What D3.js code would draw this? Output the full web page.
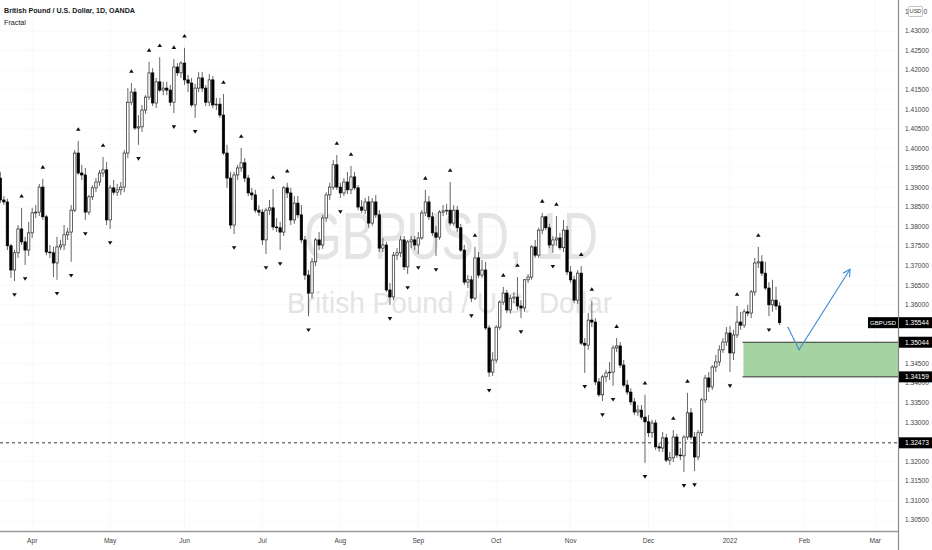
<!DOCTYPE html>
<html><head><meta charset="utf-8">
<script src="https://cdn.jsdelivr.net/npm/d3@7"></script>
<style>body{margin:0;background:#fff;}svg{display:block;}</style>
</head><body>
<svg id="chart" width="932" height="550"></svg>
<script>
// ---------- DATA ----------
const firstBar = -9; // bar index of first candle; index 0 = 2021-04-01
const opens = [
1.3924,1.3868,1.3863,1.3751,1.3689,1.3733,1.3794,1.3761,1.3740,1.3784,
1.3835,1.3837,1.3901,1.3825,1.3735,1.3733,1.3707,1.3748,1.3753,1.3779,
1.3786,1.3842,1.3988,1.3937,1.3932,1.3837,1.3876,1.3899,1.3914,1.3937,
1.3945,1.3817,1.3899,1.3888,1.3894,1.3901,1.3988,1.4118,1.4144,1.4052,
1.4055,1.4098,1.4131,1.4193,1.4116,1.4170,1.4149,1.4154,1.4149,1.4118,
1.4208,1.4193,1.4218,1.4175,1.4167,1.4111,1.4154,1.4180,1.4154,1.4118,
1.4175,1.4111,1.4113,1.4085,1.3988,1.3924,1.3804,1.3932,1.3950,1.3963,
1.3924,1.3886,1.3881,1.3842,1.3837,1.3766,1.3842,1.3848,1.3799,1.3797,
1.3786,1.3899,1.3886,1.3817,1.3860,1.3830,1.3766,1.3676,1.3630,1.3710,
1.3766,1.3753,1.3822,1.3881,1.3901,1.3958,1.3901,1.3886,1.3914,1.3894,
1.3927,1.3899,1.3850,1.3842,1.3863,1.3809,1.3863,1.3830,1.3745,1.3753,
1.3638,1.3620,1.3727,1.3733,1.3766,1.3697,1.3761,1.3766,1.3753,1.3771,
1.3835,1.3863,1.3825,1.3784,1.3773,1.3837,1.3840,1.3842,1.3809,1.3842,
1.3797,1.3740,1.3658,1.3664,1.3617,1.3720,1.3676,1.3689,1.3541,1.3428,
1.3459,1.3543,1.3607,1.3630,1.3587,1.3617,1.3620,1.3597,1.3592,1.3664,
1.3671,1.3748,1.3727,1.3791,1.3825,1.3797,1.3753,1.3766,1.3771,1.3746,
1.3791,1.3684,1.3664,1.3612,1.3681,1.3502,1.3497,1.3561,1.3556,1.3403,
1.3370,1.3416,1.3426,1.3428,1.3490,1.3495,1.3446,1.3395,1.3377,1.3352,
1.3326,1.3331,1.3313,1.3301,1.3273,1.3298,1.3237,1.3234,1.3260,1.3203,
1.3209,1.3262,1.3216,1.3214,1.3262,1.3324,1.3262,1.3211,1.3273,1.3357,
1.3413,1.3390,1.3441,1.3454,1.3485,1.3505,1.3528,1.3477,1.3523,1.3556,
1.3548,1.3582,1.3579,1.3633,1.3707,1.3710,1.3681,1.3643,1.3600,1.3612,1.3597];
const highs = [
1.3940,1.3878,1.3871,1.3756,1.3740,1.3804,1.3848,1.3774,1.3812,1.3848,
1.3855,1.3909,1.3922,1.3830,1.3753,1.3748,1.3774,1.3766,1.3804,1.3797,
1.3855,1.3996,1.4019,1.3958,1.3950,1.3881,1.3906,1.3924,1.3945,1.3978,
1.3965,1.3906,1.3919,1.3909,1.3914,1.3996,1.4154,1.4167,1.4154,1.4085,
1.4111,1.4136,1.4221,1.4205,1.4180,1.4233,1.4170,1.4170,1.4162,1.4228,
1.4218,1.4223,1.4257,1.4188,1.4180,1.4165,1.4195,1.4195,1.4162,1.4190,
1.4185,1.4129,1.4129,1.4139,1.4009,1.3940,1.3940,1.3958,1.4001,1.3975,
1.3932,1.3899,1.3894,1.3855,1.3845,1.3848,1.3868,1.3896,1.3822,1.3812,
1.3904,1.3912,1.3899,1.3878,1.3878,1.3855,1.3776,1.3689,1.3720,1.3771,
1.3786,1.3830,1.3888,1.3912,1.3970,1.3983,1.3912,1.3924,1.3940,1.3955,
1.3940,1.3906,1.3868,1.3873,1.3878,1.3873,1.3881,1.3842,1.3771,1.3761,
1.3656,1.3735,1.3745,1.3776,1.3776,1.3766,1.3776,1.3776,1.3786,1.3842,
1.3894,1.3878,1.3837,1.3802,1.3842,1.3855,1.3858,1.3914,1.3855,1.3853,
1.3807,1.3753,1.3676,1.3674,1.3748,1.3735,1.3715,1.3710,1.3548,1.3479,
1.3548,1.3612,1.3646,1.3638,1.3625,1.3633,1.3671,1.3612,1.3666,1.3679,
1.3753,1.3766,1.3797,1.3835,1.3827,1.3807,1.3776,1.3827,1.3784,1.3817,
1.3802,1.3699,1.3674,1.3689,1.3699,1.3515,1.3579,1.3610,1.3566,1.3413,
1.3421,1.3434,1.3454,1.3497,1.3515,1.3505,1.3459,1.3408,1.3387,1.3362,
1.3344,1.3344,1.3370,1.3318,1.3306,1.3306,1.3247,1.3275,1.3270,1.3224,
1.3280,1.3270,1.3234,1.3267,1.3375,1.3336,1.3275,1.3280,1.3362,1.3421,
1.3428,1.3446,1.3472,1.3497,1.3515,1.3543,1.3546,1.3536,1.3597,1.3582,
1.3589,1.3600,1.3638,1.3720,1.3748,1.3727,1.3710,1.3658,1.3664,1.3646,1.3607];
const lows = [
1.3860,1.3855,1.3740,1.3669,1.3661,1.3720,1.3753,1.3702,1.3725,1.3771,
1.3822,1.3827,1.3817,1.3727,1.3720,1.3671,1.3664,1.3740,1.3740,1.3766,
1.3710,1.3837,1.3932,1.3919,1.3817,1.3830,1.3868,1.3888,1.3904,1.3927,
1.3804,1.3794,1.3881,1.3878,1.3881,1.3888,1.3975,1.4111,1.4047,1.4009,
1.4042,1.4088,1.4124,1.4108,1.4103,1.4144,1.4136,1.4136,1.4108,1.4090,
1.4185,1.4180,1.4162,1.4144,1.4106,1.4078,1.4144,1.4144,1.4108,1.4108,
1.4103,1.4098,1.4078,1.3983,1.3899,1.3794,1.3781,1.3919,1.3940,1.3914,
1.3878,1.3868,1.3835,1.3827,1.3753,1.3730,1.3830,1.3791,1.3786,1.3740,
1.3776,1.3873,1.3804,1.3807,1.3822,1.3758,1.3664,1.3571,1.3617,1.3699,
1.3740,1.3743,1.3812,1.3868,1.3894,1.3894,1.3873,1.3878,1.3883,1.3883,
1.3894,1.3842,1.3835,1.3832,1.3797,1.3802,1.3822,1.3735,1.3735,1.3633,
1.3600,1.3612,1.3715,1.3722,1.3689,1.3679,1.3745,1.3740,1.3730,1.3766,
1.3827,1.3817,1.3776,1.3725,1.3766,1.3827,1.3830,1.3802,1.3802,1.3786,
1.3735,1.3651,1.3643,1.3607,1.3612,1.3669,1.3669,1.3536,1.3416,1.3418,
1.3451,1.3536,1.3600,1.3579,1.3577,1.3605,1.3587,1.3566,1.3582,1.3656,
1.3664,1.3720,1.3720,1.3781,1.3791,1.3745,1.3733,1.3751,1.3740,1.3735,
1.3676,1.3656,1.3604,1.3602,1.3497,1.3426,1.3485,1.3543,1.3395,1.3365,
1.3354,1.3403,1.3408,1.3393,1.3479,1.3439,1.3390,1.3370,1.3344,1.3318,
1.3316,1.3306,1.3196,1.3262,1.3260,1.3229,1.3224,1.3224,1.3198,1.3191,
1.3198,1.3209,1.3203,1.3173,1.3255,1.3255,1.3175,1.3203,1.3265,1.3349,
1.3377,1.3382,1.3428,1.3444,1.3477,1.3495,1.3428,1.3459,1.3515,1.3536,
1.3541,1.3571,1.3566,1.3623,1.3694,1.3674,1.3638,1.3571,1.3582,1.3587,1.3548];
const closes = [
1.3868,1.3863,1.3751,1.3689,1.3733,1.3794,1.3761,1.3740,1.3784,1.3835,
1.3837,1.3901,1.3825,1.3735,1.3733,1.3707,1.3748,1.3753,1.3779,1.3786,
1.3842,1.3988,1.3937,1.3932,1.3837,1.3876,1.3899,1.3914,1.3937,1.3945,
1.3817,1.3899,1.3888,1.3894,1.3901,1.3988,1.4118,1.4144,1.4052,1.4055,
1.4098,1.4131,1.4193,1.4116,1.4170,1.4149,1.4154,1.4149,1.4118,1.4208,
1.4193,1.4218,1.4175,1.4167,1.4111,1.4154,1.4180,1.4154,1.4118,1.4175,
1.4111,1.4113,1.4085,1.3988,1.3924,1.3804,1.3932,1.3950,1.3963,1.3924,
1.3886,1.3881,1.3842,1.3837,1.3766,1.3842,1.3848,1.3799,1.3797,1.3786,
1.3899,1.3886,1.3817,1.3860,1.3830,1.3766,1.3676,1.3630,1.3710,1.3766,
1.3753,1.3822,1.3881,1.3901,1.3958,1.3901,1.3886,1.3914,1.3894,1.3927,
1.3899,1.3850,1.3842,1.3863,1.3809,1.3863,1.3830,1.3745,1.3753,1.3638,
1.3620,1.3727,1.3733,1.3766,1.3697,1.3761,1.3766,1.3753,1.3771,1.3835,
1.3863,1.3825,1.3784,1.3773,1.3837,1.3840,1.3842,1.3809,1.3842,1.3797,
1.3740,1.3658,1.3664,1.3617,1.3720,1.3676,1.3689,1.3541,1.3428,1.3459,
1.3543,1.3607,1.3630,1.3587,1.3617,1.3620,1.3597,1.3592,1.3664,1.3671,
1.3748,1.3727,1.3791,1.3825,1.3797,1.3753,1.3766,1.3771,1.3746,1.3791,
1.3684,1.3664,1.3612,1.3681,1.3502,1.3497,1.3561,1.3556,1.3403,1.3370,
1.3416,1.3426,1.3428,1.3490,1.3495,1.3446,1.3395,1.3377,1.3352,1.3326,
1.3331,1.3313,1.3301,1.3273,1.3298,1.3237,1.3234,1.3260,1.3203,1.3209,
1.3262,1.3216,1.3214,1.3262,1.3324,1.3262,1.3211,1.3273,1.3357,1.3413,
1.3390,1.3441,1.3454,1.3485,1.3505,1.3528,1.3477,1.3523,1.3556,1.3548,
1.3582,1.3579,1.3633,1.3707,1.3710,1.3681,1.3643,1.3600,1.3612,1.3597,1.35544];

const fractalUp = [-3,3,13,20,28,33,36,40,43,54,59,68,72,86,90,111,118,125,133,137,144,148,155,158,165,173,181,185,199,205];
const fractalDown = [-5,-2,7,11,15,22,30,40,46,57,66,70,78,87,101,106,109,114,124,129,138,147,156,161,164,173,184,187,197,208];

const monthLabels = ["Apr","May","Jun","Jul","Aug","Sep","Oct","Nov","Dec","2022","Feb","Mar"];
const monthBars   = [0,22,43,65,87,109,131,152,174,197,218,238];
const priceTicks = [1.430,1.425,1.420,1.415,1.410,1.405,1.400,1.395,1.390,1.385,1.380,1.375,1.370,1.365,1.360,1.355,1.350,1.345,1.340,1.335,1.330,1.325,1.320,1.315,1.310,1.305];
const topTick = 1.435; // partly hidden behind the currency badge

const symbolName = "GBPUSD";
const titleText = "British Pound / U.S. Dollar, 1D, OANDA";
const indicatorName = "Fractal";
const currency = "USD";
const lastPrice = 1.35544;
const zoneTop = 1.35044, zoneBottom = 1.34159, zoneStartBar = 200.8;
const supportLevel = 1.32473;
const arrowPath = [[213.3, 1.3544], [216.5, 1.3485], [230.9, 1.3691]];

// ---------- SCALES ----------
const W = 932, H = 550, plotR = 898.5, plotB = 531.5;
const x = d3.scaleLinear().domain([0, 238]).range([32.2, 875.2]);
const y = d3.scaleLinear().domain([1.430, 1.305]).range([31, 520]);
const fmt = d3.format(".5f");

const svg = d3.select("#chart");
const font = "'Liberation Sans', Arial, sans-serif";

svg.append("defs").append("clipPath").attr("id","plot")
  .append("rect").attr("x",0).attr("y",0).attr("width",plotR).attr("height",plotB);
const plot = svg.append("g").attr("clip-path","url(#plot)");

// very faint grid
plot.append("g").selectAll("line").data(priceTicks).join("line")
  .attr("x1",0).attr("x2",plotR).attr("y1",d=>y(d)).attr("y2",d=>y(d))
  .attr("stroke","#f7f8fa").attr("stroke-width",1);
plot.append("g").selectAll("line").data(monthBars).join("line")
  .attr("x1",d=>x(d)).attr("x2",d=>x(d)).attr("y1",0).attr("y2",plotB)
  .attr("stroke","#f7f8fa").attr("stroke-width",1);

// watermark
plot.append("text").attr("x",304).attr("y",259).attr("textLength",294).attr("lengthAdjust","spacingAndGlyphs")
  .attr("font-family",font).attr("font-size",66).attr("fill","#e4e4e4").text(symbolName + ", 1D");
plot.append("text").attr("x",287).attr("y",313).attr("textLength",325).attr("lengthAdjust","spacingAndGlyphs")
  .attr("font-family",font).attr("font-size",30).attr("fill","#e4e4e4").text("British Pound / U.S. Dollar");

const bars = opens.map((o,k)=>({i:firstBar+k,o,h:highs[k],l:lows[k],c:closes[k]}));
const bw = 2.4;

// support dashed line
plot.append("line").attr("x1",0).attr("x2",plotR).attr("y1",y(supportLevel)).attr("y2",y(supportLevel))
  .attr("stroke","#3a3a3a").attr("stroke-width",1).attr("stroke-dasharray","3,3");

// zone
plot.append("rect").attr("x",x(zoneStartBar)).attr("y",y(zoneTop))
  .attr("width",plotR - x(zoneStartBar)).attr("height",y(zoneBottom)-y(zoneTop))
  .attr("fill","#a6d3a2");
[zoneTop, zoneBottom].forEach(v=>{
  plot.append("line").attr("x1",x(zoneStartBar)-1).attr("x2",plotR).attr("y1",y(v)).attr("y2",y(v))
    .attr("stroke","#333").attr("stroke-width",1);
});

// wicks
plot.append("g").selectAll("line").data(bars).join("line")
  .attr("x1",d=>x(d.i)).attr("x2",d=>x(d.i)).attr("y1",d=>y(d.h)).attr("y2",d=>y(d.l))
  .attr("stroke","#555").attr("stroke-width",0.9);
// bodies
plot.append("g").selectAll("rect").data(bars).join("rect")
  .attr("x",d=>x(d.i)-bw/2).attr("width",bw)
  .attr("y",d=>y(Math.max(d.o,d.c)))
  .attr("height",d=>Math.max(0.8, Math.abs(y(d.o)-y(d.c))))
  .attr("fill",d=>d.c>=d.o?"#fff":"#000")
  .attr("stroke",d=>d.c>=d.o?"#222":"#000").attr("stroke-width",0.7);

// fractals
const barByIdx = new Map(bars.map(b=>[b.i,b]));
plot.append("g").selectAll("path").data(fractalUp.map(i=>barByIdx.get(i))).join("path")
  .attr("d",d=>{const cx=x(d.i), cy=y(d.h)-12; return `M${cx-2.3},${cy+1.8}L${cx+2.3},${cy+1.8}L${cx},${cy-1.8}Z`;})
  .attr("fill","#111");
plot.append("g").selectAll("path").data(fractalDown.map(i=>barByIdx.get(i))).join("path")
  .attr("d",d=>{const cx=x(d.i), cy=y(d.l)+14; return `M${cx-2.3},${cy-1.8}L${cx+2.3},${cy-1.8}L${cx},${cy+1.8}Z`;})
  .attr("fill","#111");

// arrow
const ap = arrowPath.map(p=>[x(p[0]), y(p[1])]);
plot.append("path").attr("d", d3.line()(ap)).attr("fill","none").attr("stroke","#4a8fd8").attr("stroke-width",1.2);
{
  const a = ap[1], b = ap[2];
  const ang = Math.atan2(b[1]-a[1], b[0]-a[0]);
  const L = 8;
  const h1 = [b[0]-L*Math.cos(ang-0.5), b[1]-L*Math.sin(ang-0.5)];
  const h2 = [b[0]-L*Math.cos(ang+0.5), b[1]-L*Math.sin(ang+0.5)];
  plot.append("path").attr("d", d3.line()([h1,b,h2])).attr("fill","none").attr("stroke","#4a8fd8").attr("stroke-width",1.2);
}

// axis lines
svg.append("line").attr("x1",0).attr("x2",plotR).attr("y1",plotB).attr("y2",plotB).attr("stroke","#9a9a9a").attr("stroke-width",1.6);
svg.append("line").attr("x1",plotR).attr("x2",plotR).attr("y1",0).attr("y2",H).attr("stroke","#8a8a8a").attr("stroke-width",1.2);

// price labels
svg.append("g").selectAll("text").data(priceTicks).join("text")
  .attr("x",905).attr("y",d=>y(d)).attr("dy","0.35em")
  .attr("font-family",font).attr("font-size",6.6).attr("fill","#444").text(d=>fmt(d));

// top tick partly covered by the currency badge: visible fragments either side
const topStr = fmt(topTick);
svg.append("text").attr("x",905).attr("y",y(topTick)).attr("dy","0.35em")
  .attr("font-family",font).attr("font-size",6.6).attr("fill","#444").text(topStr.slice(0,1));
svg.append("text").attr("x",923.5).attr("y",y(topTick)).attr("dy","0.35em")
  .attr("font-family",font).attr("font-size",6.6).attr("fill","#444").text(topStr.slice(-1));
svg.append("rect").attr("x",908.5).attr("y",y(topTick)-5).attr("width",14).attr("height",10).attr("fill","#fff").attr("stroke","#b0b0b0").attr("stroke-width",0.8).attr("rx",1);
svg.append("text").attr("x",915.5).attr("y",y(topTick)).attr("dy","0.35em").attr("text-anchor","middle")
  .attr("font-family",font).attr("font-size",5.6).attr("fill","#333").text(currency);

// month labels
svg.append("g").selectAll("text").data(monthBars).join("text")
  .attr("x",d=>x(d)).attr("y",541).attr("dy","0.35em").attr("text-anchor","middle")
  .attr("font-family",font).attr("font-size",6.6).attr("fill","#444").text((d,k)=>monthLabels[k]);

// price tags
function tag(v){
  svg.append("rect").attr("x",899).attr("y",y(v)-5.5).attr("width",33).attr("height",11).attr("fill","#000");
  svg.append("text").attr("x",905).attr("y",y(v)).attr("dy","0.35em")
    .attr("font-family",font).attr("font-size",6.6).attr("fill","#fff").text(fmt(v));
}
[zoneTop, zoneBottom, supportLevel, lastPrice].forEach(tag);
svg.append("rect").attr("x",868).attr("y",y(lastPrice)-5.5).attr("width",30).attr("height",11).attr("fill","#000");
svg.append("text").attr("x",883).attr("y",y(lastPrice)).attr("dy","0.35em").attr("text-anchor","middle")
  .attr("font-family",font).attr("font-size",6.2).attr("fill","#fff").text(symbolName);

// title
svg.append("text").attr("x",4).attr("y",13).attr("textLength",131).attr("lengthAdjust","spacingAndGlyphs")
  .attr("font-family",font).attr("font-weight","bold").attr("font-size",7.6).attr("fill","#131722").text(titleText);
svg.append("text").attr("x",4).attr("y",24.5)
  .attr("font-family",font).attr("font-size",7.2).attr("fill","#131722").text(indicatorName);
</script>
</body></html>
